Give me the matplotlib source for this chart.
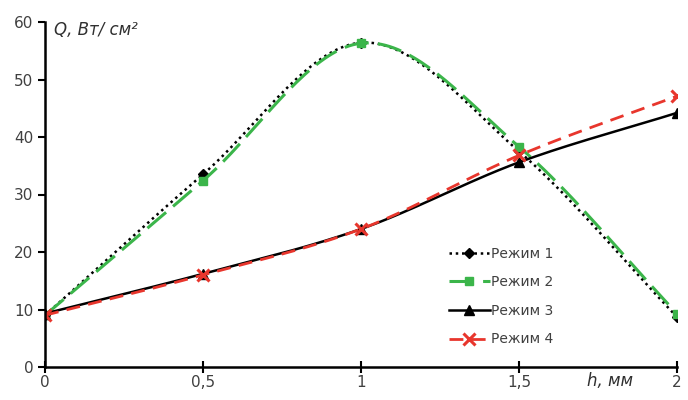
import numpy as np
import matplotlib.pyplot as plt

# Данные
h = [0, 0.5, 1, 1.5, 2]
rezhim_1 = [9.0, 33.5, 56.4, 37.5, 8.7]
rezhim_2 = [9.0, 32.4, 56.3, 38.3, 9.3]
rezhim_3 = [9.3, 16.2, 24.0, 35.6, 44.2]
rezhim_4 = [9.0, 16.0, 24.0, 36.8, 47.1]
x_ticks = [0, 0.5, 1, 1.5, 2]
x_tick_labels = ['0', '0,5', '1', '1,5', '2']
y_ticks = [0, 10, 20, 30, 40, 50, 60]


def smooth(xs, ys, n=40):
    # Catmull-Rom сглаживание, как в Excel
    xs = np.asarray(xs, float)
    ys = np.asarray(ys, float)
    px = np.concatenate([[2 * xs[0] - xs[1]], xs, [2 * xs[-1] - xs[-2]]])
    py = np.concatenate([[2 * ys[0] - ys[1]], ys, [2 * ys[-1] - ys[-2]]])
    out_x, out_y = [], []
    t = np.linspace(0, 1, n)
    for i in range(1, len(px) - 2):
        for p, out in ((px, out_x), (py, out_y)):
            p0, p1, p2, p3 = p[i - 1], p[i], p[i + 1], p[i + 2]
            out.extend(0.5 * (2 * p1 + (-p0 + p2) * t
                              + (2 * p0 - 5 * p1 + 4 * p2 - p3) * t ** 2
                              + (-p0 + 3 * p1 - 3 * p2 + p3) * t ** 3))
    return out_x, out_y


fig = plt.figure(figsize=(6.88, 4.0), dpi=100)
ax = fig.add_axes([0.0654, 0.0825, 0.9186, 0.8625])

series = [
    (rezhim_1, 'Режим 1', dict(color='black', linestyle=(0, (1, 1.5)), linewidth=1.8), dict(marker='D', markersize=5, color='black')),
    (rezhim_2, 'Режим 2', dict(color='#3bb54a', linestyle=(0, (8, 3)), linewidth=2.2), dict(marker='s', markersize=6, color='#3bb54a')),
    (rezhim_3, 'Режим 3', dict(color='black', linestyle='-', linewidth=1.8), dict(marker='^', markersize=7, color='black')),
    (rezhim_4, 'Режим 4', dict(color='#e8362d', linestyle=(0, (5, 3)), linewidth=2.0), dict(marker='x', markersize=8, markeredgewidth=2.2, color='#e8362d')),
]

for ys, name, lstyle, mstyle in series:
    sx, sy = smooth(h, ys)
    ax.plot(sx, sy, **lstyle)
    ax.plot(h, ys, linestyle='none', **mstyle)
    # элемент легенды
    ax.plot([], [], label=name, **lstyle, **{k: v for k, v in mstyle.items() if k != 'color'})

ax.set_xlim(0, 2)
ax.set_ylim(0, 60)
ax.set_xticks(x_ticks)
ax.set_xticklabels(x_tick_labels)
ax.set_yticks(y_ticks)
for s in ['top', 'right']:
    ax.spines[s].set_visible(False)
for s in ['left', 'bottom']:
    ax.spines[s].set_linewidth(1.8)
ax.tick_params(axis='both', direction='out', length=5, width=1.5, labelsize=11, colors='black', labelcolor='#404040')
ax.tick_params(axis='x', direction='inout', length=8, pad=2)
for spine in ax.spines.values():
    spine.set_clip_on(False)

ax.text(0.03, 58.6, 'Q, Вт/ см²', fontsize=12, style='italic', color='#303030', va='center', ha='left')
ax.text(1.86, -2.5, 'h, мм', fontsize=12, style='italic', color='#303030', va='center', ha='right', clip_on=False)

ax.legend(loc='upper left', bbox_to_anchor=(0.62, 0.385), frameon=False, fontsize=10,
          handlelength=2.9, labelspacing=1.05, handletextpad=0.1, labelcolor='#404040')

plt.savefig('out.png', dpi=100)
plt.close()
